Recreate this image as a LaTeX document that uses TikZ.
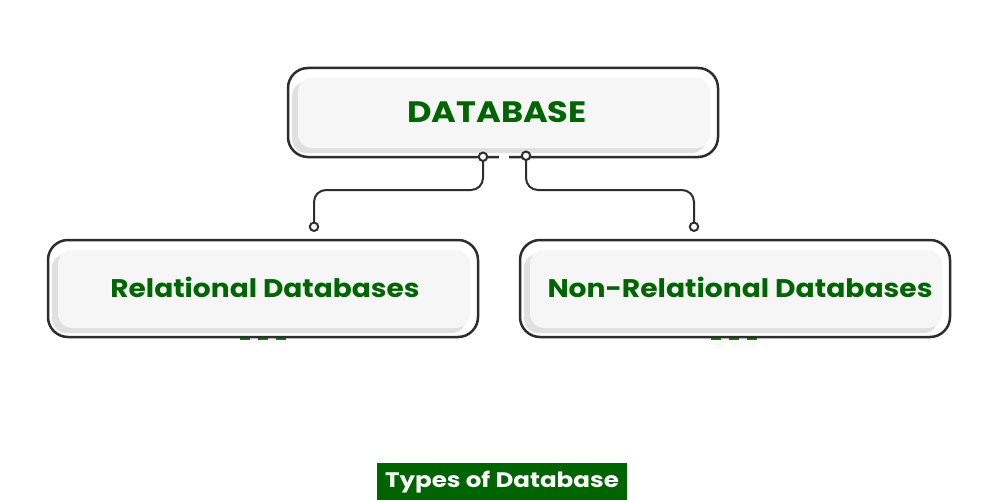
\documentclass[tikz,border=0pt]{standalone}
\usepackage{fontspec}
\usepackage{graphicx}
\setmainfont{Poppins}
\usetikzlibrary{calc}
\definecolor{dbgreen}{RGB}{0,100,0}
\definecolor{dbline}{RGB}{45,45,45}
\definecolor{dbinner}{RGB}{246,246,246}
\definecolor{dbshadow}{RGB}{224,224,224}
\tikzset{
  card/.style={draw=dbline, line width=2.5pt, fill=white, rounded corners=20pt,
    minimum width=430pt, inner sep=0pt, text=dbgreen, font=\bfseries,
    path picture={
      \fill[dbshadow, rounded corners=14pt]
        ([xshift=4pt,yshift=4pt]path picture bounding box.south west)
        rectangle ([xshift=-12pt,yshift=-14pt]path picture bounding box.north east);
      \fill[dbinner, rounded corners=14pt]
        ([xshift=10pt,yshift=9pt]path picture bounding box.south west)
        rectangle ([xshift=-8pt,yshift=-10pt]path picture bounding box.north east);
    }},
  wire/.style={draw=dbline, line width=2pt, rounded corners=12pt},
  knob/.style={draw=dbline, line width=2pt, fill=white},
  greendash/.style={draw=dbgreen!80!green, line width=2.5pt, dash pattern=on 10pt off 8pt}
}
\begin{document}
\begin{tikzpicture}[x=1pt,y=-1pt]
\useasboundingbox[fill=white] (0,0) rectangle (1000,500);
% small green dash marks below the lower cards
\draw[greendash] (240,338.5) -- (290,338.5);
\draw[greendash] (711,338.5) -- (761,338.5);
% cards
\node[card, minimum height=89pt, font=\bfseries\fontsize{29.5}{34}\selectfont] (db) at (503,112.5)
  {\raisebox{1pt}{\scalebox{1.14}[1]{DATABASE}}\hspace*{12pt}};
\node[card, minimum height=97pt, font=\bfseries\fontsize{25.5}{30}\selectfont] (rel) at (263,288.5)
  {\raisebox{3pt}{\hspace*{4pt}\scalebox{1.1}[1]{Relational Databases}}};
\node[card, minimum height=97pt, font=\bfseries\fontsize{25.5}{30}\selectfont] (nrel) at (735,288.5)
  {\raisebox{3pt}{\hspace*{10pt}\scalebox{1.105}[1]{Non-Relational Databases}}};
% gap in the top card's bottom border
\fill[white] ([xshift=-4pt,yshift=3pt]db.south) rectangle ([xshift=6pt,yshift=-3pt]db.south);
% connector end points
\coordinate (dbL) at ([xshift=-20pt,yshift=1.5pt]db.south);
\coordinate (dbR) at ([xshift=23pt,yshift=2.5pt]db.south);
\coordinate (relT) at ([xshift=51pt,yshift=12pt]rel.north);
\coordinate (nrelT) at ([xshift=-41pt,yshift=12pt]nrel.north);
% connectors
\draw[wire] (dbL) -- (dbL |- 0,190) -- (relT |- 0,190) -- (relT);
\draw[wire] (dbR) -- (dbR |- 0,190) -- (nrelT |- 0,190) -- (nrelT);
\draw[knob] (dbL) circle (4.2);
\draw[knob] (dbR) circle (4.2);
\draw[knob] (relT) circle (4.2);
\draw[knob] (nrelT) circle (4.2);
% caption
\node[fill=dbgreen, text=white, font=\bfseries\fontsize{21}{25}\selectfont,
  minimum width=250pt, minimum height=38pt, inner sep=0pt] (cap) at (502,482)
  {\raisebox{3pt}{\scalebox{1.17}[1]{Types of Database}}};
\end{tikzpicture}
\end{document}
